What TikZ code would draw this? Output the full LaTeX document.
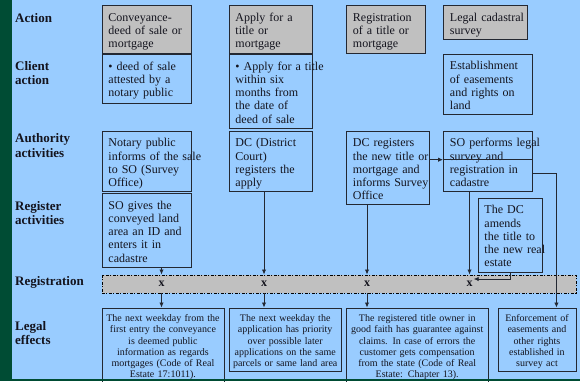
\documentclass[tikz,border=0pt]{standalone}
\usepackage{fontspec}
\setmainfont{Liberation Serif}
\usetikzlibrary{arrows.meta, positioning}
\definecolor{skyfill}{RGB}{153,204,255}
\definecolor{slidegreen}{RGB}{0,76,52}
\definecolor{headgray}{RGB}{192,192,192}
\definecolor{edge}{RGB}{35,40,50}
\definecolor{ink}{RGB}{20,20,30}

\begin{document}
\begin{tikzpicture}[
    x=1pt, y=-1pt,
    every node/.style={text=ink},
    rowlbl/.style={anchor=base west, text width=85pt, align=left, inner sep=0pt,
                   font=\fontsize{13}{14.8}\selectfont\bfseries},
    cell/.style={draw=edge, line width=0.9pt, anchor=north west, inner xsep=6.5pt,
                 inner ysep=4pt, align=left, text height=12pt,
                 font=\fontsize{12}{13.2}\selectfont},
    headcell/.style={cell, fill=headgray},
    effect/.style={draw=edge, line width=0.9pt, anchor=north west, inner xsep=2pt,
                   inner ysep=4pt, align=center, text height=9.5pt,
                   font=\fontsize{10}{11.3}\selectfont},
    regmark/.style={inner sep=1pt, font=\fontsize{12}{12}\selectfont\bfseries},
    arr/.style={-{Latex[length=5pt, width=4.5pt]}, line width=0.9pt, draw=edge},
  ]
  \fill[skyfill] (0,0) rectangle (580,381);
  \useasboundingbox (0,0) rectangle (580,381);

  % row labels
  \node[rowlbl] (lact) at (15,22) {Action};
  \node[rowlbl] (lcli) at (15,70) {Client\\action};
  \node[rowlbl] (laut) at (15,142.5) {Authority\\activities};
  \node[rowlbl] (lreg) at (15,210) {Register\\activities};
  \node[rowlbl] (lband) at (15,285) {Registration};
  \node[rowlbl] (leff) at (15,330) {Legal\\effects};

  % conveyance column
  \node[headcell, text width=76pt, text depth=28pt] (act1) at (101.5,5) {Conveyance-\\deed of sale or\\mortgage};
  \node[cell, text width=76pt, text depth=29pt, below=0pt of act1] (cli1) {• deed of sale\\attested by a\\notary public};
  \node[cell, text width=76pt, text depth=40pt] (aut1) at (101.5,130.5) {Notary public\\\mbox{informs of the sale}\\to SO (Survey\\Office)};
  \node[cell, text width=76pt, text depth=54pt, below=1.5pt of aut1] (reg1) {SO gives the\\conveyed land\\area an ID and\\enters it in\\cadastre};

  % title column
  \node[headcell, text width=70.5pt, text depth=28pt] (act2) at (228.5,5) {Apply for a\\title or\\mortgage};
  \node[cell, text width=70.5pt, text depth=54pt, below=0pt of act2] (cli2) {\mbox{• Apply for a title}\\within six\\months from\\the date of\\deed of sale};
  \node[cell, text width=70.5pt, text depth=40pt] (aut2) at (228.5,130.5) {DC (District\\Court)\\registers the\\apply};

  % registration column
  \node[headcell, text width=65.5pt, text depth=27.5pt] (act3) at (346,5) {Registration\\of a title or\\mortgage};
  \node[cell, text width=70pt, text depth=53.5pt] (aut3) at (346,130.5) {DC registers\\\mbox{the new title or}\\mortgage and\\\mbox{informs Survey}\\Office};

  % survey column
  \node[headcell, text width=70.5pt, text depth=14pt] (act4) at (443,5) {\mbox{Legal cadastral}\\survey};
  \node[cell, text width=75.5pt, text depth=40pt] (cli4) at (443,53.5) {Establishment\\of easements\\and rights on\\land};
  \node[cell, text width=75.5pt, text depth=40pt] (aut4) at (443,130.5) {\mbox{SO performs legal}\\survey and\\registration in\\cadastre};
  \node[cell, text width=51pt, text depth=54pt] (amend) at (477.5,197.5) {The DC\\amends\\the title to\\\mbox{the new real}\\estate};

  % registration band
  \node[draw=black, fill=headgray, line width=0.6pt, dash pattern=on 3pt off 1.5pt on 1pt off 1.5pt,
        anchor=north west, minimum width=474pt, minimum height=18pt, inner sep=0pt] (band) at (101.5,274.5) {};
  \node[regmark] (x1) at (161.5,284) {x};
  \node[regmark] (x2) at (264,284) {x};
  \node[regmark] (x3) at (367,284) {x};
  \node[regmark] (x4) at (469.5,284) {x};

  % legal effects
  \node[effect, text width=118pt] (eff1) at (101.5,307.5) {The next weekday from the\\first entry the conveyance\\is deemed public\\information as regards\\mortgages (Code of Real\\Estate 17:1011).};
  \node[effect, text width=108.5pt, text depth=46pt] (eff2) at (228.5,307.5) {The next weekday the\\application has priority\\over possible later\\\mbox{applications on the same}\\\mbox{parcels or same land area}};
  \node[effect, text width=137.5pt] (eff3) at (346,307.5) {The registered title owner in\\\mbox{good faith has guarantee against}\\claims. In case of errors the\\customer gets compensation\\from the state (Code of Real\\Estate: Chapter 13).};
  \node[effect, text width=74pt, text depth=46pt] (eff4) at (497.5,307.5) {Enforcement of\\easements and\\other rights\\established in\\survey act};

  % connectors
  \draw[arr] (reg1.south -| x1) -- (band.north -| x1);
  \draw[arr] (aut2.south -| x2) -- (band.north -| x2);
  \draw[arr] (aut3.south -| x3) -- (band.north -| x3);
  \draw[arr] (aut4.south -| x4) -- (band.north -| x4);
  \draw[arr] (amend.south) |- ([yshift=5pt]x4.east);
  \draw[arr] (band.south -| x1) -- (eff1.north -| x1);
  \draw[arr] (band.south -| x2) -- (eff2.north -| x2);
  \draw[arr] (band.south -| x3) -- (eff3.north -| x3);
  \coordinate (dcout) at ([yshift=8pt]aut3.east);
  \draw[arr] (dcout) -- (dcout -| aut4.west);
  \draw[edge, line width=0.9pt] (dcout -| aut4.west) -- (dcout -| aut4.east);
  \draw[arr] ([yshift=-12.5pt]aut4.east) -| ([xshift=19.5pt]eff4.north);

  % slide frame
  \fill[slidegreen] (0,0) rectangle (12,381);
  \fill[slidegreen] (0,379) rectangle (580,381);
\end{tikzpicture}
\end{document}
